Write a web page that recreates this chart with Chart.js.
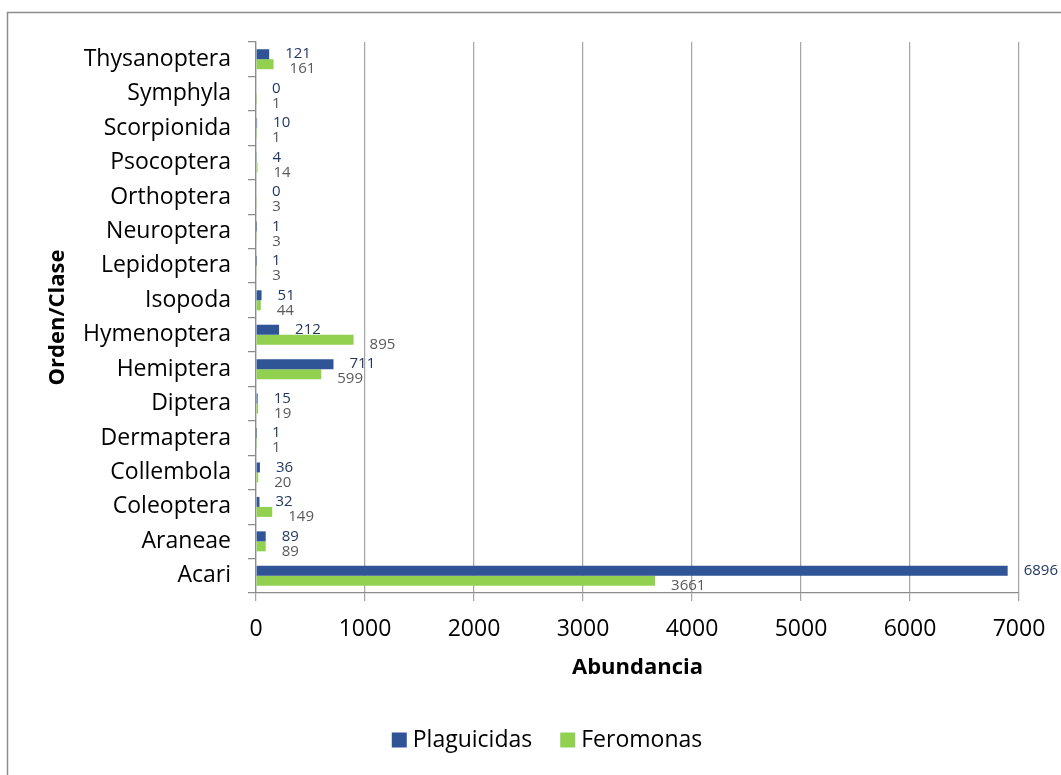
<!DOCTYPE html>
<html>
<head>
<meta charset="utf-8">
<script src="https://cdn.jsdelivr.net/npm/chart.js@4/dist/chart.umd.min.js"></script>
<style>
  html, body { margin: 0; padding: 0; background: #fff; }
  #wrap { width: 1061px; height: 775px; position: relative; }
</style>
</head>
<body>
<div id="wrap"><canvas id="chart" width="1061" height="775"></canvas></div>
<script>
// Abundance per order/class, top to bottom
const categories = [
  'Thysanoptera', 'Symphyla', 'Scorpionida', 'Psocoptera', 'Orthoptera',
  'Neuroptera', 'Lepidoptera', 'Isopoda', 'Hymenoptera', 'Hemiptera',
  'Diptera', 'Dermaptera', 'Collembola', 'Coleoptera', 'Araneae', 'Acari'
];
const plaguicidas = [121, 0, 10, 4, 0, 1, 1, 51, 212, 711, 15, 1, 36, 32, 89, 6896];
const feromonas   = [161, 1, 1, 14, 3, 3, 3, 44, 895, 599, 19, 1, 20, 149, 89, 3661];
const xTicks = [0, 1000, 2000, 3000, 4000, 5000, 6000, 7000];

const FONT = '"Open Sans", "DejaVu Sans", sans-serif';
const BLUE = '#2F5597';
const GREEN = '#92D050';

// Value labels at the end of each bar
const valueLabels = {
  id: 'valueLabels',
  afterDatasetsDraw(chart) {
    const ctx = chart.ctx;
    ctx.save();
    ctx.font = '15px ' + FONT;
    ctx.textAlign = 'left';
    ctx.textBaseline = 'middle';
    chart.data.datasets.forEach((ds, di) => {
      const meta = chart.getDatasetMeta(di);
      ctx.fillStyle = di === 0 ? '#1F3864' : '#595959';
      meta.data.forEach((bar, i) => {
        const dy = di === 0 ? 0 : 5;
        ctx.fillText(String(ds.data[i]), bar.x + 16, bar.y + dy);
      });
    });
    ctx.restore();
  }
};

// Frame, axis titles and legend
const decorations = {
  id: 'decorations',
  afterDraw(chart) {
    const ctx = chart.ctx;
    const area = chart.chartArea;
    ctx.save();
    ctx.strokeStyle = '#8C8C8C';
    ctx.lineWidth = 1.5;
    ctx.beginPath();
    ctx.moveTo(7.5, 800);
    ctx.lineTo(7.5, 12.5);
    ctx.lineTo(1100, 12.5);
    ctx.stroke();

    ctx.fillStyle = '#000';
    ctx.font = 'bold 22px ' + FONT;
    ctx.textAlign = 'center';
    ctx.textBaseline = 'middle';
    ctx.fillText('Abundancia', (area.left + area.right) / 2, 668);

    ctx.save();
    ctx.translate(58, (area.top + area.bottom) / 2);
    ctx.rotate(-Math.PI / 2);
    ctx.fillText('Orden/Clase', 0, 0);
    ctx.restore();

    // legend
    ctx.font = '23px ' + FONT;
    ctx.textAlign = 'left';
    const items = chart.data.datasets.map(d => ({ label: d.label, color: d.backgroundColor }));
    const box = 15, gap = 6, between = 28;
    const widths = items.map(it => box + gap + ctx.measureText(it.label).width);
    const total = widths.reduce((a, b) => a + b, 0) + between * (items.length - 1);
    let x = 547 - total / 2;
    const cy = 740;
    items.forEach((it, i) => {
      ctx.fillStyle = it.color;
      ctx.fillRect(x, cy - box / 2, box, box);
      ctx.fillStyle = '#000';
      ctx.fillText(it.label, x + box + gap, cy);
      x += widths[i] + between;
    });
    ctx.restore();
  }
};

new Chart(document.getElementById('chart'), {
  type: 'bar',
  data: {
    labels: categories,
    datasets: [
      { label: 'Plaguicidas', data: plaguicidas, backgroundColor: BLUE,
        categoryPercentage: 0.58, barPercentage: 1.0 },
      { label: 'Feromonas', data: feromonas, backgroundColor: GREEN,
        categoryPercentage: 0.58, barPercentage: 1.0 }
    ]
  },
  options: {
    indexAxis: 'y',
    responsive: false,
    animation: false,
    devicePixelRatio: 1,
    layout: { padding: { top: 42, right: 42, left: 0, bottom: 0 } },
    plugins: { legend: { display: false }, tooltip: { enabled: false } },
    scales: {
      x: {
        type: 'linear',
        min: xTicks[0],
        max: xTicks[xTicks.length - 1],
        afterBuildTicks(scale) { scale.ticks = xTicks.map(v => ({ value: v })); },
        afterFit(scale) { scale.height = 182; },
        ticks: { color: '#000', font: { family: FONT, size: 23 }, padding: 15, maxRotation: 0,
                 callback: v => String(v) },
        grid: { color: '#A6A6A6', lineWidth: 1.25, tickLength: 8, drawTicks: true },
        border: { color: '#8C8C8C', width: 1.25 }
      },
      y: {
        type: 'category',
        afterFit(scale) { scale.width = 256; },
        ticks: { color: '#000', font: { family: FONT, size: 23 }, padding: 17, autoSkip: false },
        grid: { offset: true, drawOnChartArea: false, color: '#8C8C8C', lineWidth: 1.25, tickLength: 8 },
        border: { color: '#8C8C8C', width: 1.25 }
      }
    }
  },
  plugins: [valueLabels, decorations]
});
</script>
</body>
</html>
